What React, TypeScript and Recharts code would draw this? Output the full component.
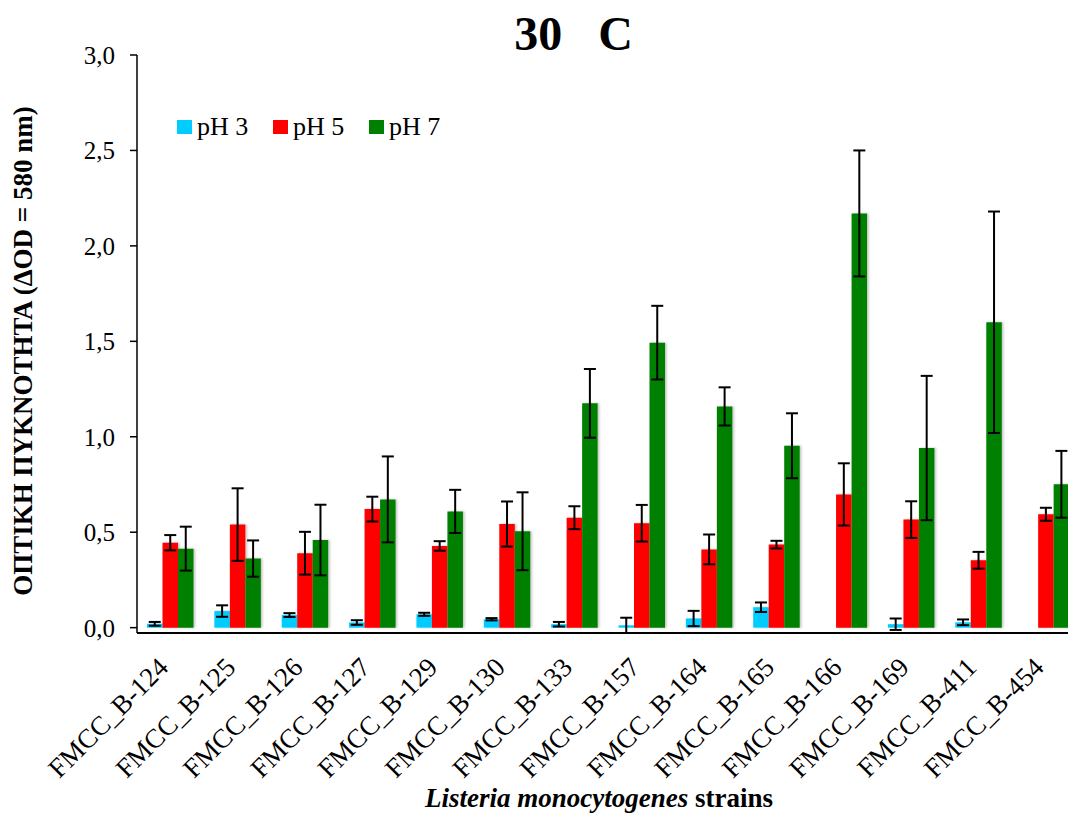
import { Bar, BarChart, ErrorBar, XAxis, YAxis } from "recharts";

const strains = [
  "FMCC_B-124", "FMCC_B-125", "FMCC_B-126", "FMCC_B-127", "FMCC_B-129", "FMCC_B-130", "FMCC_B-133",
  "FMCC_B-157", "FMCC_B-164", "FMCC_B-165", "FMCC_B-166", "FMCC_B-169", "FMCC_B-411", "FMCC_B-454",
];
const ph3 = [0.02, 0.087, 0.066, 0.027, 0.07, 0.044, 0.018, 0.012, 0.048, 0.107, 0, 0.018, 0.028, 0];
const ph3Err = [0.01, 0.03, 0.01, 0.012, 0.008, 0.006, 0.012, 0.04, 0.04, 0.025, 0, 0.03, 0.015, 0];
const ph5 = [0.445, 0.54, 0.39, 0.621, 0.428, 0.543, 0.576, 0.547, 0.41, 0.435, 0.698, 0.566, 0.353, 0.594];
const ph5Err = [0.04, 0.19, 0.112, 0.065, 0.025, 0.118, 0.06, 0.096, 0.078, 0.02, 0.163, 0.096, 0.044, 0.034];
const ph7 = [0.414, 0.362, 0.459, 0.672, 0.609, 0.505, 1.175, 1.493, 1.159, 0.953, 2.17, 0.941, 1.6, 0.751];
const ph7Err = [0.115, 0.095, 0.185, 0.225, 0.113, 0.204, 0.18, 0.193, 0.1, 0.17, 0.33, 0.378, 0.58, 0.175];
const yTicks = [0, 0.5, 1, 1.5, 2, 2.5, 3];

const series = [
  { key: "ph3", err: "ph3Err", name: "pH 3", color: "#00CCFF" },
  { key: "ph5", err: "ph5Err", name: "pH 5", color: "#FF0000" },
  { key: "ph7", err: "ph7Err", name: "pH 7", color: "#008000" },
];

const data = strains.map((s, i) => ({
  strain: s,
  ph3: ph3[i],
  ph3Err: ph3Err[i],
  ph5: ph5[i],
  ph5Err: ph5Err[i],
  ph7: ph7[i],
  ph7Err: ph7Err[i],
}));

const font = "'Liberation Serif', 'Times New Roman', serif";

const StrainTick = (props: any) => {
  const { x, y, payload } = props;
  return (
    <g transform={`translate(${x - 1},${y + 34})`}>
      <text transform="rotate(-45)" textAnchor="end" fontSize={27} fontFamily={font} fill="#000">
        {payload.value}
      </text>
    </g>
  );
};

// legend drawn as an overlay so it doesn't eat plot space
const LegendBox = () => (
  <div style={{ position: "absolute", left: 177, top: 113, fontFamily: font, fontSize: 26, lineHeight: "28px" }}>
    {series.map((s, i) => (
      <div key={s.key} style={{ position: "absolute", left: i * 96, top: 0, display: "flex", alignItems: "center", whiteSpace: "nowrap" }}>
        <span style={{ width: 15, height: 14, background: s.color, display: "inline-block", marginRight: 5 }} />
        <span>{s.name}</span>
      </div>
    ))}
  </div>
);

export default function App() {
  return (
    <div
      style={{
        position: "absolute",
        left: 0,
        top: 0,
        width: 1068,
        height: 813,
        overflow: "hidden",
        background: "#fff",
        fontFamily: font,
      }}
    >
      <div
        style={{
          position: "absolute",
          left: 0,
          width: 1147,
          top: 6,
          textAlign: "center",
          fontSize: 48,
          fontWeight: "bold",
          whiteSpace: "pre",
        }}
      >
        {"30   C"}
      </div>
      <BarChart
        width={1080}
        height={813}
        data={data}
        margin={{ top: 55, right: 0, left: 0, bottom: 150 }}
        barGap={0}
      >
        <defs>
          <filter id="barShadow" x="-20%" y="-5%" width="150%" height="110%">
            <feDropShadow dx="1.5" dy="0" stdDeviation="1" floodColor="#000" floodOpacity="0.25" />
          </filter>
        </defs>
        <XAxis
          dataKey="strain"
          interval={0}
          height={30}
          tickLine={false}
          tickSize={0}
          tick={<StrainTick />}
          axisLine={{ stroke: "#000", strokeWidth: 2 }}
          label={{
            position: "bottom",
            content: () => (
              <text x={599} y={807} textAnchor="middle" fontFamily={font} fontSize={27} fontWeight="bold" fill="#000">
                <tspan fontStyle="italic">Listeria monocytogenes</tspan>
                <tspan> strains</tspan>
              </text>
            ),
          }}
        />
        <YAxis
          width={137}
          domain={[0, 3]}
          ticks={yTicks}
          interval={0}
          tickSize={7}
          tickMargin={15}
          tickFormatter={(v: number) => v.toFixed(1).replace(".", ",")}
          tick={{ fontSize: 25, fontFamily: font, fill: "#000" }}
          axisLine={{ stroke: "#000", strokeWidth: 1.5 }}
          tickLine={{ stroke: "#000", strokeWidth: 1.5 }}
          label={{
            position: "left",
            content: () => (
              <text
                x={23}
                y={351}
                transform="rotate(-90, 23, 351)"
                textAnchor="middle"
                dominantBaseline="central"
                fontFamily={font}
                fontSize={27}
                fontWeight="bold"
                fill="#000"
              >
                ΟΠΤΙΚΗ ΠΥΚΝΟΤΗΤΑ (ΔOD = 580 nm)
              </text>
            ),
          }}
        />
        {series.map((s) => (
          <Bar
            key={s.key}
            dataKey={s.key}
            name={s.name}
            fill={s.color}
            barSize={15.5}
            filter="url(#barShadow)"
            isAnimationActive={false}
          >
            <ErrorBar dataKey={s.err} width={6} stroke="#000" strokeWidth={2} direction="y" />
          </Bar>
        ))}
      </BarChart>
      <LegendBox />
    </div>
  );
}
